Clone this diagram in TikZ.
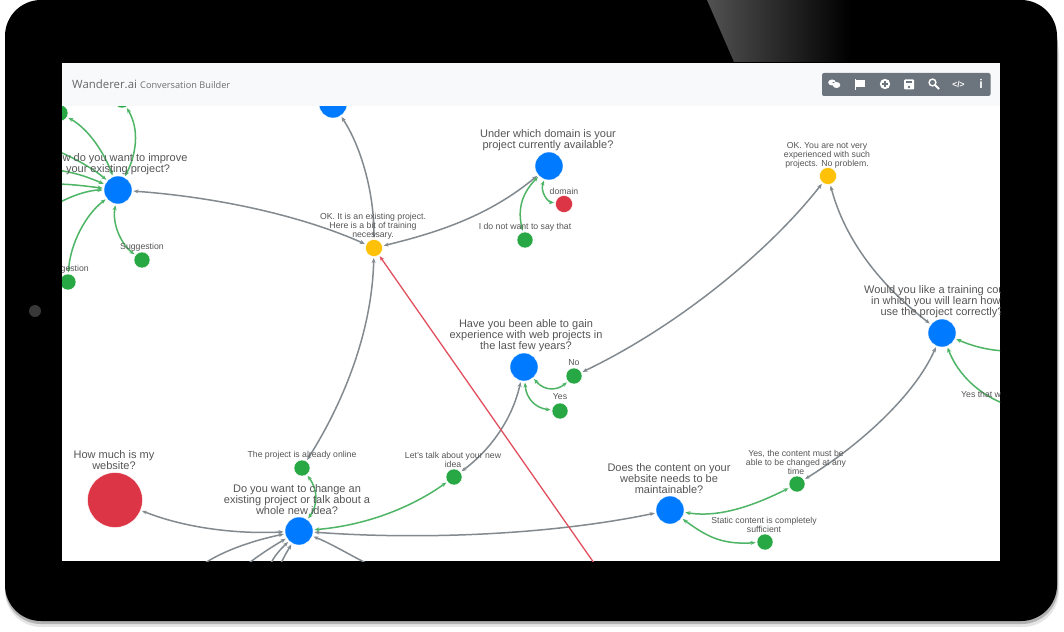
\documentclass[tikz,border=0pt]{standalone}
\usepackage{fontspec}
\setmainfont{Liberation Sans}
\newfontfamily\headfont{Open Sans}
\usetikzlibrary{arrows.meta}
\definecolor{qblue}{HTML}{007BFF}
\definecolor{qred}{HTML}{DC3545}
\definecolor{qgreen}{HTML}{28A745}
\definecolor{qyellow}{HTML}{FFC107}
\definecolor{qgray}{HTML}{6C757D}
\definecolor{qlgreen}{HTML}{4DB565}
\definecolor{qlred}{HTML}{E2505F}
\definecolor{qtext}{HTML}{555555}
\definecolor{qhead}{HTML}{F8F9FA}
\tikzset{
  dot/.style={circle,inner sep=0pt,outer sep=1.5pt,draw=white,line width=0.4pt},
  bluedot/.style={dot,fill=qblue,minimum size=28pt},
  greendot/.style={dot,fill=qgreen,minimum size=16pt},
  yellowdot/.style={dot,fill=qyellow,minimum size=17pt},
  reddot/.style={dot,fill=qred,minimum size=17pt},
  bigtext/.style={text=qtext,align=center,inner sep=0pt,font=\fontsize{11}{11}\selectfont},
  smalltext/.style={text=qtext,align=center,inner sep=0pt,font=\fontsize{8.7}{9}\selectfont},
  tip/.style={{Stealth[length=5pt,width=4pt]}-{Stealth[length=5pt,width=4pt]}},
  tipone/.style={{Stealth[length=5pt,width=4pt]}-},
  grayedge/.style={draw=qgray!85,line width=1.5pt,tip},
  greenedge/.style={draw=qlgreen,line width=1.5pt,tip},
  rededge/.style={draw=qlred,line width=1.3pt,-{Stealth[length=5pt,width=4pt]}},
  icon/.style={fill=white,draw=none},
}
\begin{document}
\begin{tikzpicture}[x=1pt,y=-1pt]
\useasboundingbox (0,0) rectangle (1064,631);
% tablet body
\fill[black!10,rounded corners=36pt] (5,20) rectangle (1059,627);
\fill[black!30,rounded corners=36pt] (5,10) rectangle (1058,624);
\fill[black,rounded corners=36pt] (5,0) rectangle (1057,621);
\begin{scope}
  \clip (707,0) -- (734,62) -- (870,62) -- (870,0) -- cycle;
  \shade[left color=black!68,right color=black] (707,0) rectangle (850,62);
\end{scope}
\fill[black!78] (35,311) circle (6);
% screen
\fill[white] (62,63) rectangle (1000,561);
\begin{scope}
  \clip (62,63) rectangle (1000,561);
  % nodes
  \node[bluedot] (imp) at (118,190) {};
  \node[bluedot] (top) at (333,104) {};
  \node[bluedot] (dom) at (549,166) {};
  \node[bluedot] (exp) at (524,367) {};
  \node[bluedot] (chg) at (299,531) {};
  \node[bluedot] (mnt) at (670,510) {};
  \node[bluedot] (trn) at (942,333) {};
  \node[dot,fill=qred,minimum size=55pt] (much) at (115,500) {};
  \node[reddot] (rdom) at (564,204) {};
  \node[yellowdot] (okone) at (374,248) {};
  \node[yellowdot] (oktwo) at (828,176) {};
  \node[greendot] (sugone) at (142,260) {};
  \node[greendot] (sugtwo) at (68,282) {};
  \node[greendot] (gleft) at (60,113) {};
  \node[greendot] (gtop) at (122,100) {};
  \node[greendot] (nosay) at (525,240) {};
  \node[greendot] (gno) at (574,376) {};
  \node[greendot] (gyes) at (560,411) {};
  \node[greendot] (online) at (302,468) {};
  \node[greendot] (idea) at (454,477) {};
  \node[greendot] (must) at (797,484) {};
  \node[greendot] (static) at (765,542) {};
  % free ends
  \coordinate (bota) at (205,563);
  \coordinate (botb) at (249,563);
  \coordinate (botc) at (271,563);
  \coordinate (botd) at (281,563);
  \coordinate (bote) at (366,563);
  \coordinate (lfa) at (55,150);
  \coordinate (lfb) at (55,170);
  \coordinate (lfc) at (55,184);
  \coordinate (lfd) at (55,205);
  \coordinate (rta) at (1005,351);
  \coordinate (rtb) at (1005,404);
  \coordinate (topr) at (385,104);
  \coordinate (redend) at (594,563);
  % edges, gray
  \draw[grayedge] (okone) .. controls (374,190) and (360,145) .. (top);
  \draw[grayedge] (okone) .. controls (300,215) and (215,197) .. (imp);
  \draw[grayedge] (okone) .. controls (440,232) and (490,215) .. (dom);
  \draw[grayedge] (online) .. controls (345,400) and (372,330) .. (okone);
  \draw[grayedge] (idea) .. controls (490,450) and (512,420) .. (exp);
  \draw[grayedge] (gno) .. controls (680,325) and (770,250) .. (oktwo);
  \draw[grayedge] (oktwo) .. controls (845,240) and (880,285) .. (trn);
  \draw[grayedge] (must) .. controls (860,445) and (915,395) .. (trn);
  \draw[grayedge] (chg) .. controls (420,540) and (550,535) .. (mnt);
  \draw[grayedge] (chg) .. controls (245,534) and (190,530) .. (much);
  \draw[grayedge,tipone] (chg) .. controls (255,540) and (225,550) .. (bota);
  \draw[grayedge,tipone] (chg) .. controls (275,545) and (262,553) .. (botb);
  \draw[grayedge,tipone] (chg) .. controls (285,545) and (276,553) .. (botc);
  \draw[grayedge,tipone] (chg) .. controls (291,545) and (286,553) .. (botd);
  \draw[grayedge,tipone] (chg) .. controls (330,543) and (350,555) .. (bote);
  % edges, green
  \draw[greenedge] (online) .. controls (318,490) and (318,505) .. (chg);
  \draw[greenedge] (chg) .. controls (370,525) and (415,505) .. (idea);
  \draw[greenedge] (exp) .. controls (545,392) and (558,390) .. (gno);
  \draw[greenedge] (exp) .. controls (526,398) and (535,408) .. (gyes);
  \draw[greenedge] (mnt) .. controls (720,518) and (755,505) .. (must);
  \draw[greenedge] (mnt) .. controls (705,535) and (720,545) .. (static);
  \draw[greenedge] (dom) .. controls (540,192) and (548,202) .. (rdom);
  \draw[greenedge] (dom) .. controls (520,195) and (518,212) .. (nosay);
  \draw[greenedge] (imp) .. controls (112,225) and (122,245) .. (sugone);
  \draw[greenedge] (imp) .. controls (85,215) and (70,245) .. (sugtwo);
  \draw[greenedge] (gleft) .. controls (90,130) and (105,155) .. (imp);
  \draw[greenedge] (gtop) .. controls (140,130) and (136,155) .. (imp);
  \draw[greenedge,tipone] (imp) .. controls (95,170) and (75,158) .. (lfa);
  \draw[greenedge,tipone] (imp) .. controls (90,178) and (75,172) .. (lfb);
  \draw[greenedge,tipone] (imp) .. controls (85,186) and (70,184) .. (lfc);
  \draw[greenedge,tipone] (imp) .. controls (90,190) and (72,195) .. (lfd);
  \draw[greenedge,-] (top) -- (topr);
  \draw[greenedge,tipone] (trn) .. controls (970,345) and (985,350) .. (rta);
  \draw[greenedge,tipone] (trn) .. controls (958,375) and (980,395) .. (rtb);
  \draw[rededge] (redend) -- (okone);
  % labels
  \node[bigtext] (timp) at (118,164.5) {How do you want to improve\\ your existing project?};
  \node[bigtext] (tmuch) at (114,460.5) {How much is my\\website?};
  \node[bigtext] (tchg) at (297,500) {Do you want to change an\\existing project or talk about a\\whole new idea?};
  \node[bigtext] (texp) at (526,336) {Have you been able to gain\\experience with web projects in\\the last few years?};
  \node[bigtext] (tmnt) at (669,479) {Does the content on your\\website needs to be\\maintainable?};
  \node[bigtext] (tdom) at (548,140.5) {Under which domain is your\\project currently available?};
  \node[bigtext] (ttrn) at (942,302) {Would you like a training course\\in which you will learn how to\\use the project correctly?};
  \node[smalltext] (tonline) at (302,455) {The project is already online};
  \node[smalltext] (tidea) at (453,460) {Let's talk about your new\\idea};
  \node[smalltext] (tno) at (574,363) {No};
  \node[smalltext] (tyes) at (560,397) {Yes};
  \node[smalltext] (tmust) at (796,462) {Yes, the content must be\\able to be changed at any\\time};
  \node[smalltext] (tstatic) at (764,524.5) {Static content is completely\\sufficient};
  \node[smalltext] (trdom) at (564,191) {domain};
  \node[smalltext] (tnosay) at (525,227) {I do not want to say that};
  \node[smalltext] (tokone) at (373,226) {OK. It is an existing project.\\Here is a bit of training\\necessary.};
  \node[smalltext] (toktwo) at (827,155) {OK. You are not very\\experienced with such\\projects. No problem.};
  \node[smalltext] (tsugone) at (142,247) {Suggestion};
  \node[smalltext] (tsugtwo) at (67,269) {Suggestion};
  \node[smalltext,anchor=west] (tyesw) at (961,394) {Yes that w};
\end{scope}
% header
\fill[qhead] (62,63) rectangle (1000,106);
\node[anchor=base west,inner sep=0pt,text=qtext!90,font=\headfont\fontsize{11.4}{13}\selectfont] (brand) at (72,89) {Wanderer.ai};
\node[anchor=base west,inner sep=0pt,text=qtext!85,font=\headfont\fontsize{9.2}{10}\selectfont] (sub) at (140,89) {Conversation Builder};
% toolbar
\fill[qgray,rounded corners=2pt] (822,73) rectangle (990.5,96);
\fill[icon] (832,82.5) ellipse (3.8 and 3);
\fill[icon] (836.5,85) ellipse (3.8 and 3);
\fill[qgray] (833.5,82.5) ellipse (1.2 and 0.6);
\fill[icon] (855,79) rectangle (856.2,90);
\fill[icon] (856,80) -- (865,80) -- (865,87) -- (856,87) -- cycle;
\fill[icon] (885,84) circle (5.2);
\fill[qgray] (882,83.5) rectangle (888,84.7);
\fill[qgray] (884.4,81) rectangle (885.6,87);
\fill[icon,rounded corners=1pt] (904,79.5) rectangle (914,89.5);
\fill[qgray] (906,81) rectangle (911.5,83.5);
\fill[qgray] (909,87) circle (1.4);
\draw[white,line width=1.4pt] (932.5,82.5) circle (3.4);
\draw[white,line width=1.8pt] (935,85) -- (939,89);
\node[inner sep=0pt,text=white,font=\bfseries\fontsize{8.5}{9}\selectfont] (codeicon) at (958.5,84.5) {</>};
\node[inner sep=0pt,text=white,font=\bfseries\fontsize{12.5}{12}\selectfont] (infoicon) at (981,84) {i};
\end{tikzpicture}
\end{document}
